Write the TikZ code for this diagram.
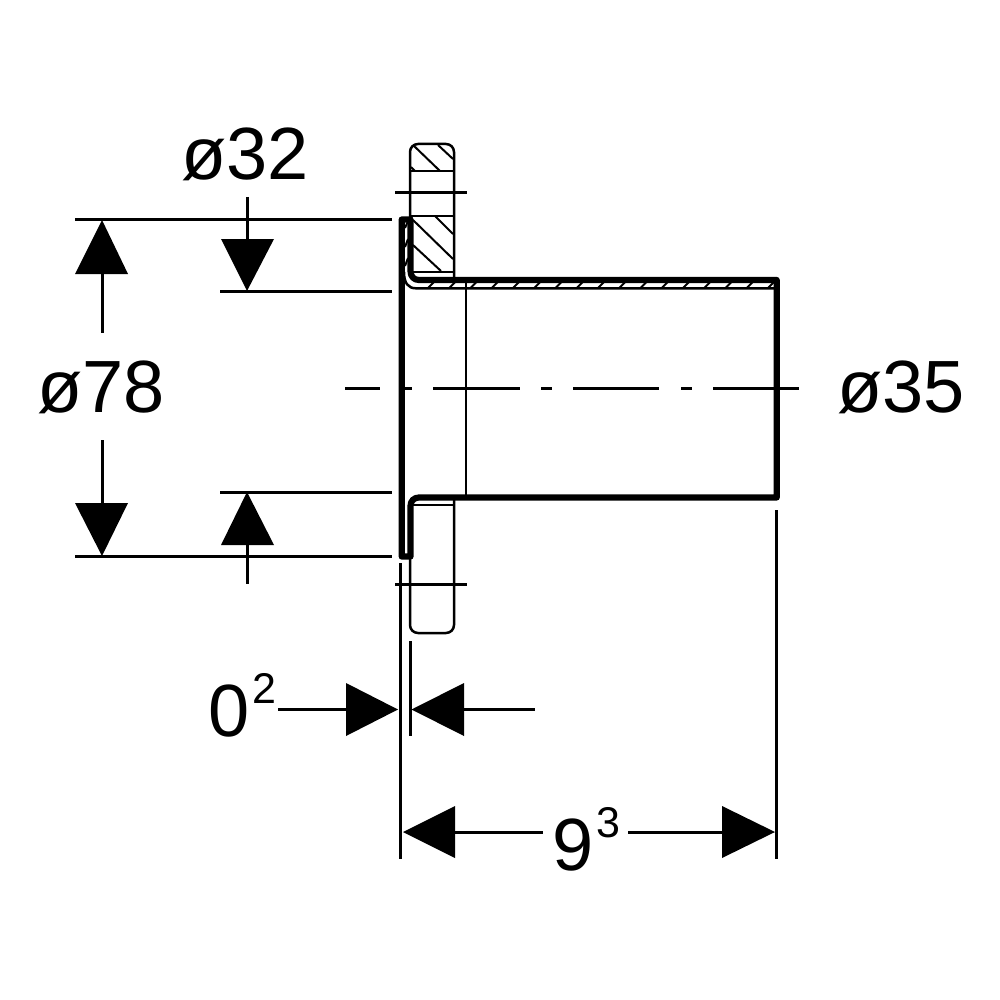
\documentclass[tikz,border=0pt]{standalone}
\usepackage{fontspec}
\setmainfont{Liberation Sans}
\tikzset{
 flangeline/.style={line width=2.5pt,draw=black},
 thickline/.style={line width=6.2pt,draw=black,line join=round,line cap=round},
 extline/.style={line width=3pt,draw=black},
 hatchline/.style={line width=2pt,draw=black},
 tip/.style={fill=black,draw=none},
 dimlabel/.style={font=\fontsize{74}{74}\selectfont,inner sep=0pt,text=black},
 suplabel/.style={font=\fontsize{43}{43}\selectfont,inner sep=0pt,text=black,anchor=base west}
}
\begin{document}
\begin{tikzpicture}[x=1pt,y=-1pt]
\useasboundingbox (0,0) rectangle (1000,1000);
\fill[white] (0,0) rectangle (1000,1000);
% flange
\draw[flangeline,rounded corners=8pt] (410,218) -- (410,144) -- (454,144) -- (454,278);
\draw[flangeline] (410,171) -- (454,171);
\draw[flangeline] (410,216) -- (454,216);
\draw[flangeline] (413,272) -- (454,272);
\draw[extline] (395,193) -- (467,193);
\draw[flangeline,rounded corners=8pt] (410,558) -- (410,633) -- (454,633) -- (454,497);
\draw[flangeline] (413,505) -- (453,505);
\draw[extline] (395,584) -- (467,584);
% flange hatch
\draw[hatchline] (413,145) -- (440,171);
\draw[hatchline] (438,145) -- (453,159);
\draw[hatchline] (411,167) -- (415,171);
\draw[hatchline] (413,220) -- (453,259);
\draw[hatchline] (435,216) -- (453,234);
\draw[hatchline] (413,245) -- (441,271);
% sheet section
\draw[flangeline] (404,272) .. controls (404,283) and (408,288.3) .. (416,288.3) -- (776,288.3);
\draw[line width=1.8pt] (466,280) -- (466,497);
\foreach \hi in {0,...,16}{
 \draw[hatchline] ({428+21.25*\hi},288) -- ({434+21.25*\hi},282);
}
\draw[hatchline] (405,266) -- (408,258);
\draw[hatchline] (405,247) -- (408,239);
\draw[hatchline] (405,228) -- (408,221);
\draw[thickline] (410.5,219.5) -- (401.7,219.5) -- (401.7,556.5) -- (410.5,556.5) -- (410.5,506)
  .. controls (410.5,501) and (414,497.5) .. (419,497.5) -- (776.7,497.5) -- (776.7,280) -- (419,280)
  .. controls (414,280) and (410.5,276.5) .. (410.5,271) -- cycle;
% extension lines
\draw[extline] (75,220) -- (392,220);
\draw[extline] (75,556) -- (392,556);
\draw[extline] (220,291) -- (392,291);
\draw[extline] (220,492) -- (392,492);
\draw[extline] (400.7,563) -- (400.7,859);
\draw[extline] (410.3,641) -- (410.3,736);
\draw[extline] (776,510) -- (776,859);
% centre line
\draw[extline] (345,388.5) -- (380,388.5);
\draw[extline] (404,388.5) -- (412,388.5);
\draw[extline] (433,388.5) -- (520,388.5);
\draw[extline] (541,388.5) -- (552,388.5);
\draw[extline] (573,388.5) -- (659,388.5);
\draw[extline] (681,388.5) -- (692,388.5);
\draw[extline] (713,388.5) -- (799,388.5);
% dimension 78
\fill[tip] (102,220) -- (128,274) -- (75,274) -- cycle;
\coordinate (a1b) at (102,274);
\node[dimlabel] (d78) at (101,387) {ø78};
\draw[extline] (a1b) -- (102,333);
\fill[tip] (102,556) -- (128,503) -- (75,503) -- cycle;
\coordinate (a2b) at (102,503);
\draw[extline] (102,440) -- (a2b);
% dimension 32
\node[dimlabel] (d32) at (245,154) {ø32};
\coordinate (b1) at (247,239);
\draw[extline] (247,197) -- (b1);
\fill[tip] (247,291) -- (274,239) -- (221,239) -- cycle;
\coordinate (b2) at (247,545);
\draw[extline] (b2) -- (247,584);
\fill[tip] (247,492) -- (274,545) -- (221,545) -- cycle;
% 35
\node[dimlabel] (d35) at (901,387) {ø35};
% 0^2
\node[dimlabel,anchor=base west] (d02) at (208,736) {0};
\node[suplabel] (d02s) at (252,703) {2};
\coordinate (c1) at (346,709.5);
\draw[extline] (278,709.5) -- (c1);
\fill[tip] (398,709.5) -- (346,683) -- (346,736) -- cycle;
\coordinate (c2) at (464,709.5);
\draw[extline] (c2) -- (535,709.5);
\fill[tip] (411.5,709.5) -- (464,683) -- (464,736) -- cycle;
% 9^3
\node[dimlabel,anchor=base west] (d93) at (552,870) {9};
\node[suplabel] (d93s) at (596,837.5) {3};
\coordinate (e1) at (455,832);
\draw[extline] (e1) -- (543,832);
\fill[tip] (403,832) -- (455,806) -- (455,858) -- cycle;
\coordinate (e2) at (722,832);
\draw[extline] (628,832) -- (e2);
\fill[tip] (775,832) -- (722,806) -- (722,858) -- cycle;
\end{tikzpicture}
\end{document}
